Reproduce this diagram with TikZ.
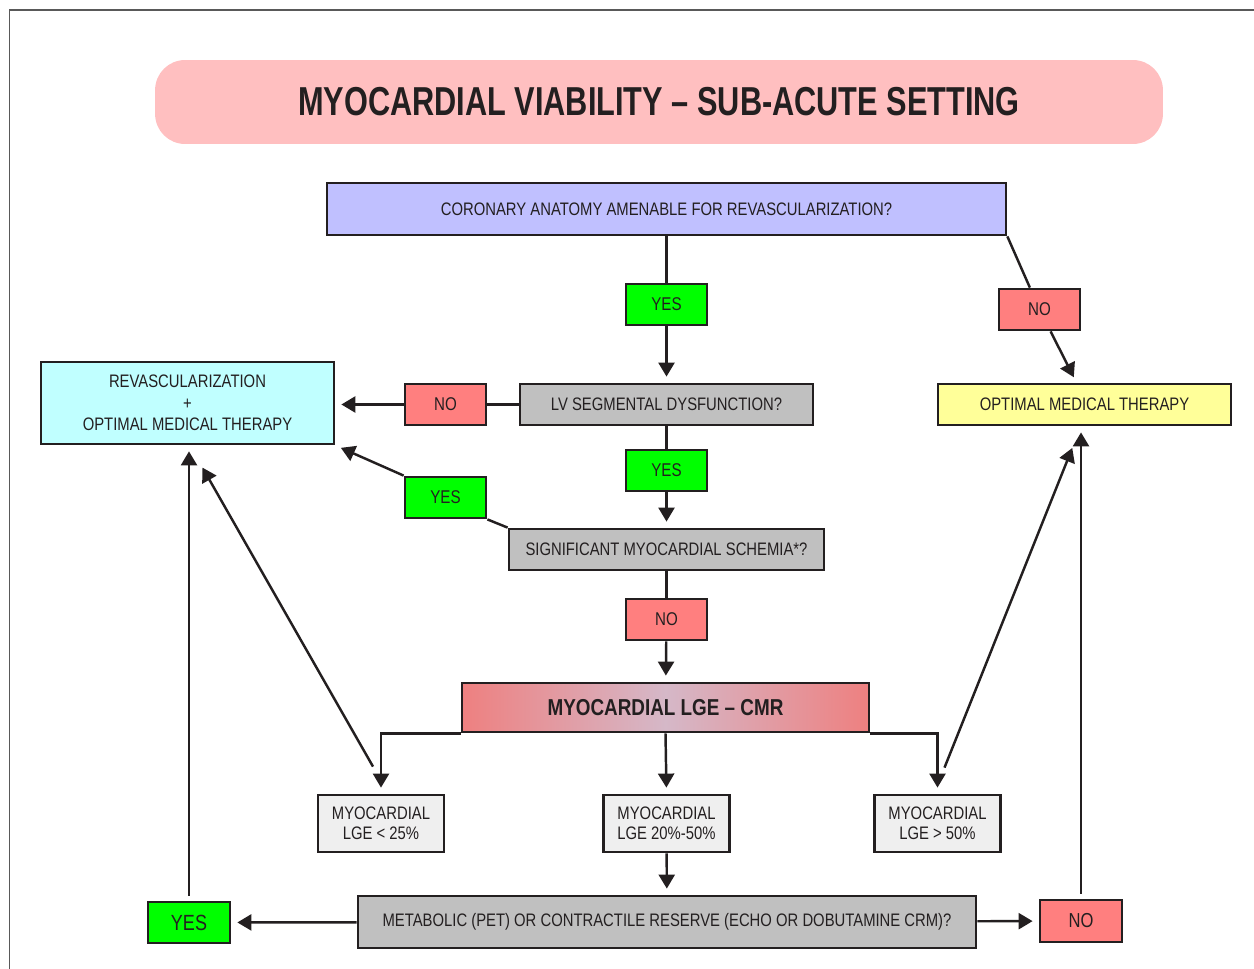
\documentclass[tikz,border=0pt]{standalone}
\usepackage{fontspec}
\setmainfont[FakeStretch=0.82]{Liberation Sans}
\newfontfamily\titlefont[FakeStretch=0.76]{Liberation Sans}
\usetikzlibrary{arrows.meta,positioning}
\definecolor{inkc}{HTML}{231F20}
\definecolor{titlepink}{HTML}{FFBFC0}
\definecolor{lavender}{HTML}{C0C0FF}
\definecolor{yesgreen}{HTML}{00FF00}
\definecolor{nored}{HTML}{FF7F7F}
\definecolor{askgray}{HTML}{C0C0C0}
\definecolor{revcyan}{HTML}{C0FFFF}
\definecolor{omtyellow}{HTML}{FFFF99}
\definecolor{lgelight}{HTML}{EFEFEF}
\definecolor{lgeedge}{HTML}{EE8080}
\definecolor{lgemid}{HTML}{D5B8C8}
\begin{document}
\begin{tikzpicture}[x=0.02cm, y=-0.02cm, >={Triangle[length=0.28cm,width=0.32cm]},
    line width=1.4pt, draw=inkc, text=inkc,
    box/.style = {draw=inkc, line width=1.6pt, inner sep=0pt, align=center, font=\fontsize{10.3}{12.3}\selectfont},
    ask/.style = {box, fill=askgray, minimum height=0.82cm},
    yes/.style = {box, fill=yesgreen, minimum width=1.62cm, minimum height=0.82cm, font=\fontsize{10.5}{12}\selectfont},
    no/.style = {box, fill=nored, minimum width=1.62cm, minimum height=0.82cm, font=\fontsize{10.5}{12}\selectfont},
    lgebox/.style = {box, fill=lgelight, minimum width=2.52cm, minimum height=1.14cm, font=\fontsize{10.3}{11.3}\selectfont},
    go/.style = {->, shorten >=0.12cm}]
    \useasboundingbox (0,0) rectangle (1254,969);
    % cadre
    \draw[line width=0.6pt, draw=black!65] (9.5,969) -- (9.5,10) -- (1254,10);

    % titolo
    \node[fill=titlepink, rounded corners=0.6cm, minimum width=20.16cm, minimum height=1.68cm,
          font=\fontsize{23}{26}\titlefont\bfseries] (title) at (659,102) {MYOCARDIAL VIABILITY – SUB-ACUTE SETTING};

    % domande e nodi
    \node[box, fill=lavender, minimum width=13.58cm, minimum height=1.04cm] (cor) at (666.5,209) {CORONARY ANATOMY AMENABLE FOR REVASCULARIZATION?};
    \node[yes] (yes1) at (666.5,304.5) {YES};
    \node[ask, minimum width=5.86cm] (lv) at (666.5,404.5) {LV SEGMENTAL DYSFUNCTION?};
    \node[no] (no1) at (445.5,404.5) {NO};
    \node[box, fill=revcyan, minimum width=5.86cm, minimum height=1.64cm] (revasc) at (187.5,403) {REVASCULARIZATION\\+\\OPTIMAL MEDICAL THERAPY};
    \node[no] (no3) at (1039.5,309.5) {NO};
    \node[box, fill=omtyellow, minimum width=5.86cm, minimum height=0.82cm] (omt) at (1084.5,404.5) {OPTIMAL MEDICAL THERAPY};
    \node[yes] (yes2) at (666.5,470.5) {YES};
    \node[ask, minimum width=6.3cm] (sig) at (666.5,549.5) {SIGNIFICANT MYOCARDIAL SCHEMIA*?};
    \node[yes] (yes3) at (445.5,497.5) {YES};
    \node[no] (no2) at (666.5,619.5) {NO};
    \node[box, left color=lgeedge, right color=lgeedge, middle color=lgemid, minimum width=8.14cm, minimum height=0.98cm,
          font=\fontsize{13.1}{15}\selectfont\bfseries] (lge) at (665.5,707.5) {MYOCARDIAL LGE – CMR};
    \node[lgebox] (low) at (381,823.5) {MYOCARDIAL\\LGE < 25\%};
    \node[lgebox] (mid) at (666.5,823.5) {MYOCARDIAL\\LGE 20\%-50\%};
    \node[lgebox] (high) at (937.5,823.5) {MYOCARDIAL\\LGE > 50\%};
    \node[ask, minimum width=12.36cm, minimum height=1.04cm] (met) at (667,922) {METABOLIC (PET) OR CONTRACTILE RESERVE (ECHO OR DOBUTAMINE CRM)?};
    \node[yes, minimum width=1.64cm, font=\fontsize{12.5}{14}\selectfont] (yes4) at (189,922.5) {YES};
    \node[no, minimum width=1.64cm, minimum height=0.84cm, font=\fontsize{11.5}{13}\selectfont] (no4) at (1081,921) {NO};

    % frecce
    \draw (cor) -- (yes1);
    \draw[go] (yes1) -- (lv);
    \draw (lv) -- (no1);
    \draw[go] (no1.west) -- (revasc.east |- no1.west);
    \draw (cor.south east) -- (no3);
    \draw[go] (no3) -- ([shift={(-8,0)}]omt.north);
    \draw (lv) -- (yes2);
    \draw[go] (yes2) -- (sig);
    \draw (sig.north west) -- (yes3.south east);
    \draw[go] (yes3.north west) -- (revasc.south east);
    \draw (sig) -- (no2);
    \draw[go] (no2) -- (lge);
    \draw[go] (lge.south west) -| (low.north);
    \draw[go] (lge.south) -- (mid.north);
    \draw[go] (lge.south east) -| (high.north);
    \draw[go] ([shift={(-8,-27)}]low.north) -- ([shift={(12,17)}]revasc.south);
    \draw[go] ([shift={(7,-26)}]high.north) -- ([shift={(-10,16)}]omt.south);
    \draw[go] (mid) -- (met);
    \draw[go] (met) -- (yes4);
    \draw[go] (met) -- (no4);
    \draw[go, shorten <=0.1cm] (yes4.north) -- (yes4.north |- revasc.south);
    \draw[go, shorten <=0.1cm] (no4.north) -- (no4.north |- omt.south);
\end{tikzpicture}
\end{document}
